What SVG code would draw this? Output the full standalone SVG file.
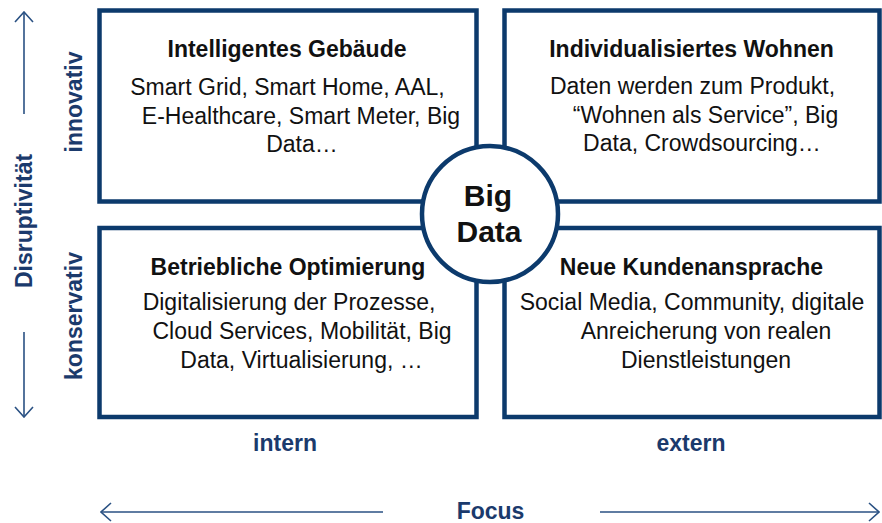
<svg xmlns="http://www.w3.org/2000/svg" width="882" height="523" viewBox="0 0 882 523">
<style>
.box{fill:#fff;stroke:#0c3a6c;stroke-width:4.5}
.hub{fill:#fff;stroke:#0c3a6c;stroke-width:4.5}
.t{font-family:"Liberation Sans",Arial,sans-serif;font-size:23px;font-weight:bold;fill:#111;text-anchor:middle}
.b{font-family:"Liberation Sans",Arial,sans-serif;font-size:23px;fill:#111;text-anchor:middle}
.big{font-family:"Liberation Sans",Arial,sans-serif;font-size:30px;font-weight:bold;fill:#111;text-anchor:middle}
.ax{font-family:"Liberation Sans",Arial,sans-serif;font-size:23px;font-weight:bold;fill:#1b3a6c;text-anchor:middle}
.arr{stroke:#2a5183;stroke-width:1.6;fill:none}
</style>
<defs>
<marker id="head" viewBox="0 0 12 20" refX="11" refY="10" markerWidth="12" markerHeight="20" markerUnits="userSpaceOnUse" orient="auto">
<path d="M1,1 L11,10 L1,19" fill="none" stroke="#2a5183" stroke-width="1.6"/>
</marker>
</defs>
<g id="connectors">
<line class="arr" x1="24" y1="114" x2="24" y2="12" marker-end="url(#head)"/>
<line class="arr" x1="24" y1="332" x2="24" y2="417" marker-end="url(#head)"/>
<line class="arr" x1="383" y1="512" x2="101" y2="512" marker-end="url(#head)"/>
<line class="arr" x1="600" y1="512" x2="879" y2="512" marker-end="url(#head)"/>
</g>
<g id="node-intelligent">
<rect class="box" x="99.5" y="10.5" width="377" height="191"/>
<text class="t" x="287" y="57">Intelligentes Gebäude</text>
<text class="b" x="287.5" y="95">Smart Grid, Smart Home, AAL,</text>
<text class="b" x="301" y="123.5">E-Healthcare, Smart Meter, Big</text>
<text class="b" x="302" y="152">Data…</text>
</g>
<g id="node-wohnen">
<rect class="box" x="504.5" y="10.5" width="375" height="191"/>
<text class="t" x="691.5" y="57">Individualisiertes Wohnen</text>
<text class="b" x="692.5" y="94">Daten werden zum Produkt,</text>
<text class="b" x="705.5" y="122.5">“Wohnen als Service”, Big</text>
<text class="b" x="702" y="151">Data, Crowdsourcing…</text>
</g>
<g id="node-betrieb">
<rect class="box" x="99.5" y="228" width="377" height="189"/>
<text class="t" x="288" y="275">Betriebliche Optimierung</text>
<text class="b" x="289" y="310">Digitalisierung der Prozesse,</text>
<text class="b" x="302" y="339">Cloud Services, Mobilität, Big</text>
<text class="b" x="301.5" y="367.5">Data, Virtualisierung, …</text>
</g>
<g id="node-kunden">
<rect class="box" x="504.5" y="228" width="375" height="189"/>
<text class="t" x="691.5" y="275">Neue Kundenansprache</text>
<text class="b" x="692" y="310">Social Media, Community, digitale</text>
<text class="b" x="706" y="339">Anreicherung von realen</text>
<text class="b" x="706" y="367.5">Dienstleistungen</text>
</g>
<g id="node-bigdata">
<circle class="hub" cx="490" cy="214" r="68"/>
<text class="big" x="488" y="206">Big</text>
<text class="big" x="489" y="242">Data</text>
</g>
<g id="axis-labels">
<text class="ax" transform="translate(81.5,102) rotate(-90)">innovativ</text>
<text class="ax" transform="translate(81.5,316) rotate(-90)">konservativ</text>
<text class="ax" transform="translate(32,221) rotate(-90)">Disruptivität</text>
<text class="ax" x="285" y="451">intern</text>
<text class="ax" x="691" y="451">extern</text>
<text class="ax" x="490.5" y="519">Focus</text>
</g>
</svg>
